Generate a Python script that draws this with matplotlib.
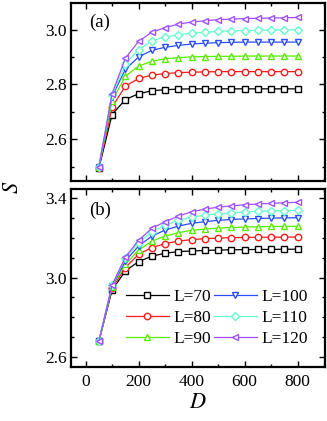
import matplotlib
matplotlib.use("Agg")
import matplotlib.pyplot as plt
from matplotlib.ticker import MultipleLocator, FixedLocator

plt.rcParams['font.family'] = ['Liberation Serif', 'DejaVu Serif']
plt.rcParams['mathtext.fontset'] = 'stix'

D = [50, 100, 150, 200, 250, 300, 350, 400, 450, 500, 550, 600, 650, 700, 750, 800]
labels = ['L=70', 'L=80', 'L=90', 'L=100', 'L=110', 'L=120']
colors = ['#000000', '#ff1a1a', '#55ee00', '#2a4dff', '#66ffcc', '#a050ff']
markers = ['s', 'o', '^', 'v', 'D', '<']

S_a = [
    [2.493, 2.690, 2.745, 2.766, 2.777, 2.781, 2.783, 2.784, 2.784, 2.784, 2.784, 2.784, 2.784, 2.784, 2.784, 2.784],
    [2.495, 2.717, 2.794, 2.822, 2.834, 2.840, 2.843, 2.845, 2.846, 2.847, 2.847, 2.847, 2.847, 2.847, 2.847, 2.847],
    [2.497, 2.740, 2.830, 2.867, 2.885, 2.894, 2.898, 2.901, 2.902, 2.903, 2.903, 2.904, 2.904, 2.904, 2.904, 2.904],
    [2.498, 2.756, 2.855, 2.901, 2.925, 2.936, 2.943, 2.948, 2.951, 2.953, 2.954, 2.955, 2.955, 2.955, 2.955, 2.955],
    [2.499, 2.760, 2.876, 2.927, 2.960, 2.974, 2.982, 2.988, 2.991, 2.994, 2.996, 2.997, 2.998, 2.999, 2.999, 3.000],
    [2.500, 2.766, 2.896, 2.958, 2.991, 3.008, 3.021, 3.028, 3.033, 3.037, 3.039, 3.041, 3.042, 3.043, 3.044, 3.045],
]

S_b = [
    [2.680, 2.937, 3.033, 3.080, 3.107, 3.122, 3.130, 3.133, 3.136, 3.138, 3.139, 3.140, 3.141, 3.141, 3.142, 3.142],
    [2.680, 2.947, 3.050, 3.117, 3.150, 3.170, 3.183, 3.190, 3.195, 3.198, 3.200, 3.201, 3.202, 3.202, 3.203, 3.203],
    [2.680, 2.953, 3.067, 3.137, 3.183, 3.208, 3.225, 3.237, 3.243, 3.248, 3.251, 3.253, 3.255, 3.256, 3.257, 3.257],
    [2.680, 2.958, 3.083, 3.158, 3.208, 3.238, 3.258, 3.272, 3.280, 3.287, 3.291, 3.294, 3.296, 3.298, 3.299, 3.300],
    [2.680, 2.962, 3.097, 3.175, 3.230, 3.263, 3.287, 3.303, 3.313, 3.320, 3.325, 3.329, 3.332, 3.334, 3.336, 3.337],
    [2.680, 2.963, 3.103, 3.187, 3.247, 3.280, 3.308, 3.330, 3.343, 3.353, 3.359, 3.365, 3.369, 3.372, 3.375, 3.377],
]

a_yticks = [2.6, 2.8, 3.0]
b_yticks = [2.6, 3.0, 3.4]

W, H = 327, 421
fig = plt.figure(figsize=(W / 100, H / 100), dpi=100)
ax_a = fig.add_axes([71 / W, 1 - 181 / H, 254 / W, 178 / H])
ax_b = fig.add_axes([71 / W, 1 - 366.7 / H, 254 / W, 177.7 / H])

FS = 12.5

for ax, data in ((ax_a, S_a), (ax_b, S_b)):
    for vals, lab, c, m in zip(data, labels, colors, markers):
        ms = 4.0 if m == 'D' else 4.6
        ax.plot(D, vals, color=c, marker=m, markersize=ms, markerfacecolor='white',
                markeredgecolor=c, markeredgewidth=1.0, linewidth=0.9, label=lab)
    ax.set_xlim(-55, 903)
    ax.xaxis.set_major_locator(MultipleLocator(200))
    ax.xaxis.set_minor_locator(MultipleLocator(100))
    ax.tick_params(which='both', direction='in', top=True, right=True, labelsize=FS, width=1.0)
    ax.tick_params(which='major', length=4, pad=3)
    ax.tick_params(which='minor', length=2.5)
    for sp in ax.spines.values():
        sp.set_linewidth(1.6)

ax_a.set_ylim(2.447, 3.098)
ax_a.yaxis.set_major_locator(FixedLocator(a_yticks))
ax_a.yaxis.set_minor_locator(MultipleLocator(0.1))
ax_a.set_yticklabels([f'{v:.1f}' for v in a_yticks])
ax_a.tick_params(axis='x', labelbottom=False)
ax_a.text(0.07, 0.89, '(a)', transform=ax_a.transAxes, fontsize=13.5, va='center', ha='left')

ax_b.set_ylim(2.553, 3.444)
ax_b.yaxis.set_major_locator(FixedLocator(b_yticks))
ax_b.yaxis.set_minor_locator(MultipleLocator(0.1))
ax_b.set_yticklabels([f'{v:.1f}' for v in b_yticks])
ax_b.tick_params(axis='x', pad=5)
ax_b.text(0.07, 0.88, '(b)', transform=ax_b.transAxes, fontsize=13.5, va='center', ha='left')

ax_b.legend(ncol=2, loc='upper left', bbox_to_anchor=(0.215, 0.44), frameon=False,
            fontsize=FS, borderpad=0, borderaxespad=0, handlelength=2.5,
            handletextpad=0.25, columnspacing=0.15, labelspacing=0.3)

fig.text(13 / W, 1 - 187 / H, '$S$', fontsize=16, ha='center', va='center', rotation=90)
fig.text(198 / W, 1 - 403 / H, '$D$', fontsize=16, ha='center', va='center')

fig.savefig('out.png', dpi=100)
